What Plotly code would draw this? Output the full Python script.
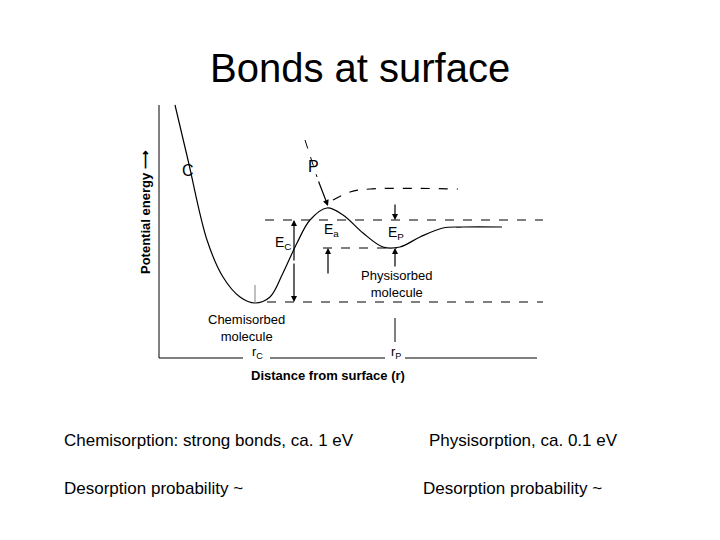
import plotly.graph_objects as go

# potential curve (slide pixel coords)
curve_x = [175, 188, 207, 223, 240, 255, 270, 283, 297, 310, 327, 343, 363, 383, 400, 420, 443, 463, 502]
curve_y = [105, 160, 240, 277, 297, 303, 297, 273, 243, 220, 208, 215, 233, 247, 247, 237, 228, 227, 227]
p_x = [333, 350, 370, 458]
p_y = [200, 192, 189, 189]
levels = [(220, 265, 543), (302, 267, 543), (248, 323, 397)]
base_segments = [(159, 243), (270, 385), (405, 537)]

fig = go.Figure()
fig.add_trace(go.Scatter(x=curve_x, y=curve_y, mode="lines", line=dict(color="black", width=1.2, shape="spline")))
fig.add_trace(go.Scatter(x=p_x, y=p_y, mode="lines", line=dict(color="black", width=1.2, dash="dash", shape="spline")))

for y, x0, x1 in levels:
    fig.add_shape(type="line", x0=x0, x1=x1, y0=y, y1=y, line=dict(color="black", width=1.2, dash="dash"))
for x0, x1 in base_segments:
    fig.add_shape(type="line", x0=x0, x1=x1, y0=358, y1=358, line=dict(color="black", width=1.2))
fig.add_shape(type="line", x0=159, x1=159, y0=105, y1=358, line=dict(color="black", width=1))
fig.add_shape(type="line", x0=255, x1=255, y0=285, y1=303, line=dict(color="gray", width=1))
fig.add_shape(type="line", x0=395, x1=395, y0=318, y1=342, line=dict(color="black", width=1))
fig.add_shape(type="line", x0=305, x1=317, y0=140, y1=177, line=dict(color="black", width=1, dash="dash"))

def arrow(x, y, ax, ay):
    fig.add_annotation(x=x, y=y, ax=ax, ay=ay, xref="x", yref="y", axref="x", ayref="y",
                       text="", showarrow=True, arrowhead=2, arrowsize=1, arrowwidth=1.2, arrowcolor="black")

arrow(294, 220, 294, 262)
arrow(294, 302, 294, 262)
arrow(328, 206, 318, 180)
arrow(328, 248, 328, 275)
arrow(395, 220, 395, 203)
arrow(395, 248, 395, 268)

def label(x, y, t, size=13, anchor="left", **kw):
    fig.add_annotation(x=x, y=y, xref="x", yref="y", text=t, showarrow=False, xanchor=anchor,
                       font=dict(family="Arial", size=size, color="black"), **kw)

label(180, 170, "C", 16)
label(306, 166, "P", 16)
label(273, 243, "E<sub>C</sub>", 14)
label(322, 230, "E<sub>a</sub>", 14)
label(386, 233, "E<sub>P</sub>", 14)
label(359, 284, "Physisorbed<br>molecule", 13)
label(206, 328, "Chemisorbed<br>molecule", 13)
label(250, 352, "r<sub>C</sub>", 13)
label(389, 352, "r<sub>P</sub>", 13)
label(328, 375, "<b>Distance from surface (r)</b>", 13, anchor="center")
label(145, 212, "<b>Potential energy ⟶</b>", 13, anchor="center", textangle=-90)

label(360, 68, "Bonds at surface", 40, anchor="center")
label(62, 440, "Chemisorption: strong bonds, ca. 1 eV", 17)
label(427, 440, "Physisorption, ca. 0.1 eV", 17)
label(62, 488, "Desorption probability ~", 17)
label(421, 488, "Desorption probability ~", 17)

# page body adds an 8px offset, shift ranges to compensate
fig.update_layout(width=720, height=540, margin=dict(l=0, r=0, t=0, b=0), showlegend=False,
                  plot_bgcolor="white", paper_bgcolor="white",
                  xaxis=dict(range=[8, 728], visible=False),
                  yaxis=dict(range=[548, 8], visible=False))
fig.write_html("out.html")
